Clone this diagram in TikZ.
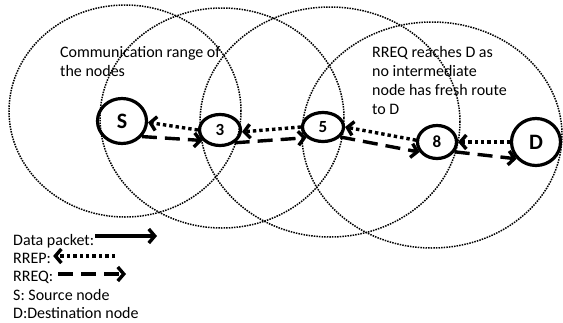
\documentclass[tikz,border=0pt]{standalone}
\usepackage{fontspec}
\setmainfont{Carlito}
\usepackage{tikz}
\usetikzlibrary{arrows.meta,shapes.geometric}

\begin{document}
\begin{tikzpicture}[x=1pt,y=-1pt,
    commrange/.style={line width=1.5pt, dash pattern=on 1.5pt off 1.1pt},
    hop/.style={draw, ellipse, line width=3.2pt, inner sep=0pt, font=\bfseries\fontsize{17}{17}\selectfont},
    endpoint/.style={hop, font=\bfseries\fontsize{22}{22}\selectfont},
    note/.style={align=left, inner sep=0pt, font=\fontsize{16}{19}\selectfont},
    barb/.style={-{Straight Barb[length=6pt,width=14pt]}},
    datalink/.style={barb, line width=3.4pt},
    rrep/.style={barb, line width=3.4pt, dash pattern=on 3.4pt off 3pt},
    rreq/.style={barb, line width=3.4pt, dash pattern=on 15pt off 8pt}]
  \useasboundingbox (0,0) rectangle (563,322);

  % communication ranges
  \draw[commrange] (125,111) ellipse [x radius=116pt, y radius=106pt];
  \draw[commrange] (222,118) ellipse [x radius=122pt, y radius=110pt];
  \draw[commrange] (330,122) ellipse [x radius=130pt, y radius=115pt];
  \draw[commrange] (432,135) ellipse [x radius=130pt, y radius=113pt];

  \node[note, anchor=north west] (rangenote) at (60,46) {Communication range of\\the nodes};
  \node[note, anchor=north west] (rreqnote) at (372,46) {RREQ reaches D as\\no intermediate\\node has fresh route\\to D};

  % nodes on the route
  \node[endpoint, minimum width=49pt, minimum height=45pt] (S) at (122,121) {S};
  \node[hop, minimum width=41pt, minimum height=31pt] (n3) at (220,130) {3};
  \node[hop, minimum width=41pt, minimum height=29pt] (n5) at (323,127) {5};
  \node[hop, minimum width=39pt, minimum height=33pt] (n8) at (437,142) {8};
  \node[endpoint, minimum width=49pt, minimum height=47pt] (D) at (536,142) {D};

  % RREP back, RREQ forward
  \draw[rrep] (n3.180) -- (S.-3);
  \draw[rreq] (S.-38) -- (n3.211);
  \draw[rrep] (n5.180) -- (n3.-5);
  \draw[rreq] (n3.-41) -- (n5.213);
  \draw[rrep] (n8.175) -- (n5.0);
  \draw[rreq] (n5.-30) -- (n8.210);
  \draw[rrep] (D.180) -- (n8.0);
  \draw[rreq] (n8.-29) -- (D.221);

  % legend
  \node[note, anchor=base west] (lgdata) at (13,245) {Data packet:};
  \node[note, anchor=base west] (lgrrep) at (13,263) {RREP:};
  \node[note, anchor=base west] (lgrreq) at (13,281) {RREQ:};
  \node[note, anchor=base west] (lgsrc) at (13,300) {S: Source node};
  \node[note, anchor=base west] (lgdst) at (13,318) {D:Destination node};

  \coordinate (dataend) at (157,236);
  \coordinate (rrepstart) at (115,256);
  \coordinate (rreqend) at (126,274);
  \draw[datalink, shorten <=1pt] (lgdata.east |- dataend) -- (dataend);
  \draw[rrep, shorten >=2pt] (rrepstart) -- (lgrrep.east |- rrepstart);
  \draw[rreq, shorten <=5pt] (lgrreq.east |- rreqend) -- (rreqend);
\end{tikzpicture}
\end{document}
